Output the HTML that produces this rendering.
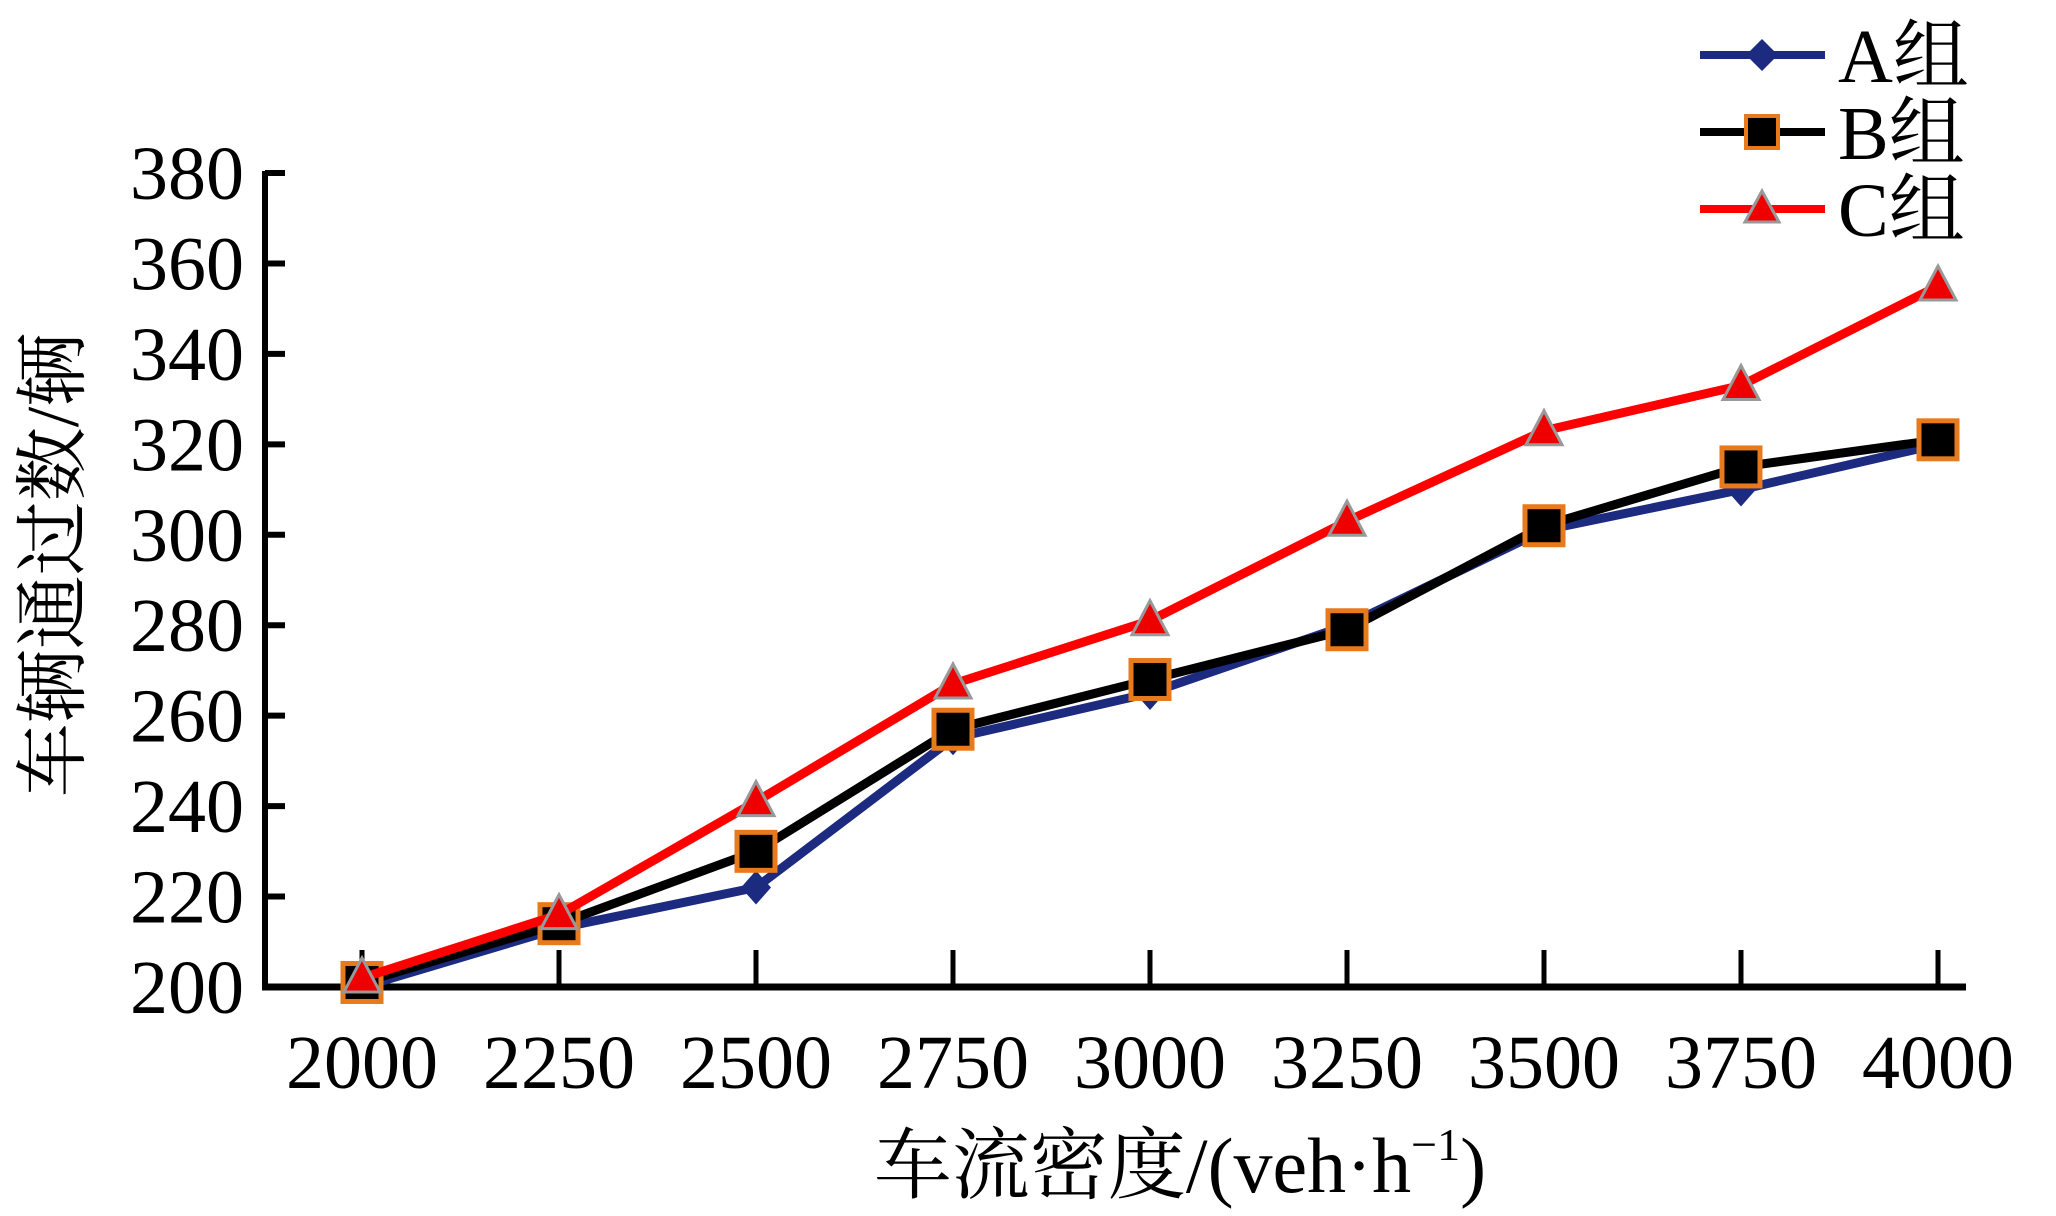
<!DOCTYPE html>
<html><head><meta charset="utf-8"><style>
html,body{margin:0;padding:0;background:#fff;}
svg{display:block;font-family:"Liberation Serif","Noto Serif CJK SC",serif;}
</style></head><body>
<svg id="chart" width="2056" height="1216" viewBox="0 0 2056 1216" xmlns="http://www.w3.org/2000/svg">
<g id="axes"></g>
<g id="series"></g>
<text transform="translate(78,565) rotate(-90)" text-anchor="middle" font-size="74">车辆通过数/辆</text>
<text x="1180" y="1192" text-anchor="middle" font-size="78">车流密度/(veh·h<tspan font-size="46" dy="-32">−1</tspan><tspan dy="32">)</tspan></text>
<g>
 <g>
  <line x1="1700" y1="55" x2="1825" y2="55" stroke="#1c2a80" stroke-width="8"/>
  <polygon points="1762,39 1778,55 1762,71 1746,55" fill="#1c2a80"/>
  <text x="1838" y="82" font-size="76">A组</text>
 </g>
 <g>
  <line x1="1700" y1="132" x2="1825" y2="132" stroke="#000" stroke-width="8"/>
  <rect x="1746" y="116" width="32" height="32" fill="#000" stroke="#e87a1e" stroke-width="4"/>
  <text x="1838" y="159" font-size="76">B组</text>
 </g>
 <g>
  <line x1="1700" y1="209" x2="1825" y2="209" stroke="#f00" stroke-width="8"/>
  <polygon points="1762,191 1779,222 1745,222" fill="#e00" stroke="#999" stroke-width="3"/>
  <text x="1838" y="236" font-size="76">C组</text>
 </g>
</g>
</svg>
<script>
const categories = [2000,2250,2500,2750,3000,3250,3500,3750,4000];
const seriesA = [200,213,222,255,265,280,301,310,320];
const seriesB = [201,214,230,257,268,279,302,315,321];
const seriesC = [202,216,241,267,281,303,323,333,355];
const yTicks = [200,220,240,260,280,300,320,340,360,380];

const NS = "http://www.w3.org/2000/svg";
const X0 = 362, DX = 197;
function xPos(i){ return X0 + i*DX; }
function yPos(v){ return 987 - (v-200)/180*814; }
function mk(tag, attrs, parent){
  const e = document.createElementNS(NS, tag);
  for (const k in attrs) e.setAttribute(k, attrs[k]);
  parent.appendChild(e); return e;
}
const axes = document.getElementById('axes');
const yAxis = mk('line',{x1:265,y1:171,x2:265,y2:989,stroke:'#000','stroke-width':6},axes);


const xAxis = mk('line',{x1:262,y1:987,x2:1966,y2:987,stroke:'#000','stroke-width':7},axes);


yTicks.forEach(v=>{
  const y = yPos(v);
  const t = mk('line',{x1:265,y1:y,x2:285,y2:y,stroke:'#000','stroke-width':6},axes);
  
  
  const l = mk('text',{x:244,y:y+26,'text-anchor':'end','font-size':76},axes);
  l.textContent = v;
  
  
});
categories.forEach((c,i)=>{
  const x = xPos(i);
  const t = mk('line',{x1:x,y1:987,x2:x,y2:950,stroke:'#000','stroke-width':5},axes);
  
  
  const l = mk('text',{x:x,y:1088,'text-anchor':'middle','font-size':76},axes);
  l.textContent = c;
  
  
});
const sg = document.getElementById('series');
function drawLine(vals,color,name){
  const pts = vals.map((v,i)=>xPos(i)+','+yPos(v)).join(' ');
  const p = mk('polyline',{points:pts,fill:'none',stroke:color,'stroke-width':9,'stroke-linejoin':'round'},sg);
  
  
}
drawLine(seriesA,'#1c2a80','series-a-line');
seriesA.forEach((v,i)=>{
  const x=xPos(i), y=yPos(v);
  const m = mk('polygon',{points:`${x},${y-17} ${x+15},${y} ${x},${y+17} ${x-15},${y}`,fill:'#1c2a80'},sg);
  
  
});
drawLine(seriesB,'#000','series-b-line');
seriesB.forEach((v,i)=>{
  const x=xPos(i), y=yPos(v);
  const m = mk('rect',{x:x-19,y:y-19,width:38,height:38,fill:'#000',stroke:'#e87a1e','stroke-width':5},sg);
  
  
});
drawLine(seriesC,'#f00','series-c-line');
seriesC.forEach((v,i)=>{
  const x=xPos(i), y=yPos(v);
  const m = mk('polygon',{points:`${x},${y-20} ${x+18},${y+14} ${x-18},${y+14}`,fill:'#e00',stroke:'#999','stroke-width':3},sg);
  
  
});
</script>
</body></html>
